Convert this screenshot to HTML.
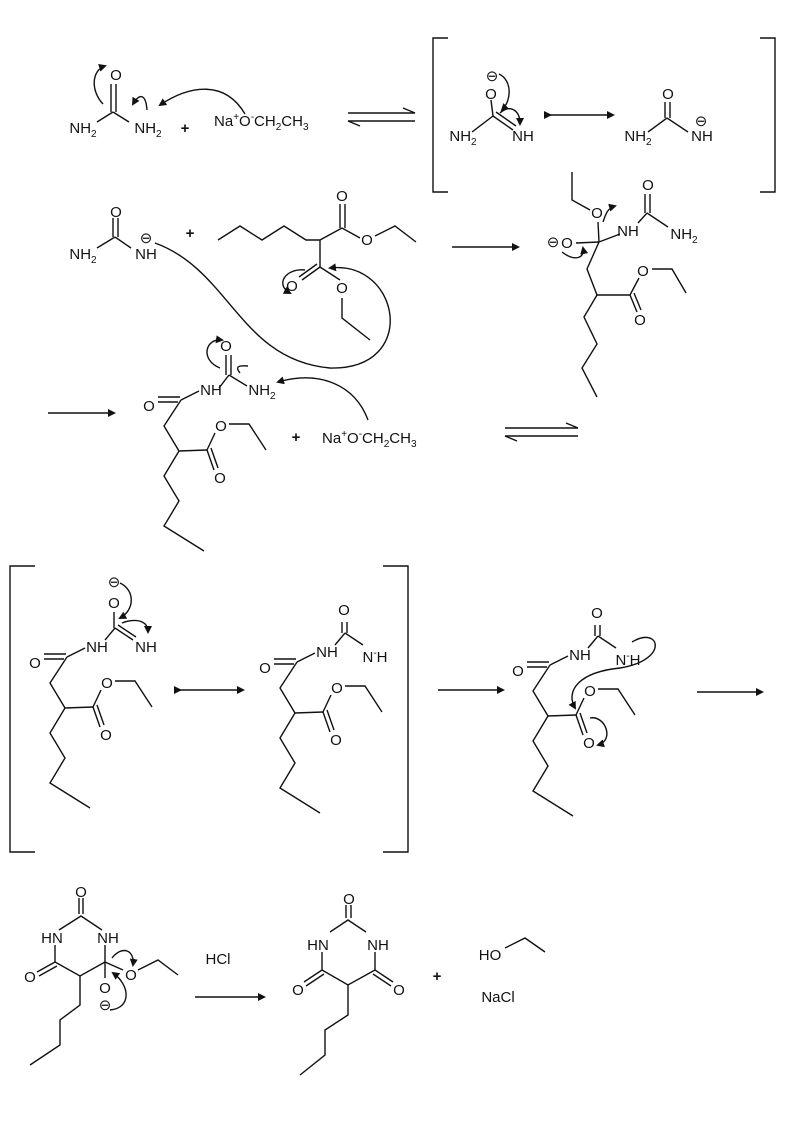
<!DOCTYPE html>
<html><head><meta charset="utf-8"><style>
html,body{margin:0;padding:0;background:#fff;}
svg{display:block;}
text{font-family:"Liberation Sans",sans-serif;font-size:15px;fill:#111;stroke:none;}
.s{font-size:10px;}
</style></head><body>
<svg width="800" height="1147" viewBox="0 0 800 1147" xmlns="http://www.w3.org/2000/svg">
<defs>
<marker id="ah" markerWidth="8" markerHeight="8" refX="6" refY="4" orient="auto" markerUnits="userSpaceOnUse"><path d="M0,0 L8,4 L0,8 Z" fill="#111" stroke="none"/></marker>
<g id="base">
 <text x="35" y="668" text-anchor="middle">O</text>
 <line x1="44" y1="654" x2="66" y2="654"/><line x1="44" y1="659" x2="64" y2="659"/>
 <line x1="67" y1="657" x2="85" y2="648"/>
 <text x="97" y="652" text-anchor="middle">NH</text>
 <polyline points="67,657 50,683 65,708 93,707" fill="none"/>
 <line x1="93" y1="707" x2="100" y2="727"/><line x1="97" y1="705" x2="104" y2="725"/>
 <text x="106" y="740" text-anchor="middle">O</text>
 <line x1="93" y1="707" x2="101" y2="690"/>
 <text x="107" y="688" text-anchor="middle">O</text>
 <polyline points="115,681 135,681 152,707" fill="none"/>
 <polyline points="65,708 50,733 65,758 50,783 90,808" fill="none"/>
</g>
</defs>
<g stroke="#111" stroke-width="1.4" fill="none">
<line x1="97" y1="122" x2="113" y2="112"/><line x1="113" y1="112" x2="129" y2="122"/>
<line x1="111" y1="112" x2="111" y2="84"/><line x1="116" y1="112" x2="116" y2="84"/>
<path d="M103,104 C90,90 92,70 105,66" marker-end="url(#ah)"/>
<path d="M147,110 C146,95 140,92 133,104" marker-end="url(#ah)"/>
<path d="M245,114 C225,80 190,85 160,105" marker-end="url(#ah)"/>
<line x1="348" y1="113" x2="415" y2="113"/><path d="M415,113 L403,108" />
<line x1="348" y1="121" x2="415" y2="121"/><path d="M348,121 L360,126"/>
<polyline points="448,38 433,38 433,192 448,192"/>
<polyline points="760,38 775,38 775,192 760,192"/>
<line x1="472" y1="132" x2="493" y2="116"/><line x1="493" y1="116" x2="491" y2="100"/>
<line x1="493" y1="116" x2="513" y2="130"/><line x1="496" y1="112" x2="516" y2="126"/>
<path d="M499,74 C512,80 512,100 502,110" marker-end="url(#ah)"/>
<path d="M500,113 C510,104 520,110 520,124" marker-end="url(#ah)"/>
<line x1="550" y1="115" x2="613" y2="115" marker-end="url(#ah)" marker-start="url(#ah)"/>
<line x1="648" y1="132" x2="667" y2="118"/><line x1="667" y1="118" x2="688" y2="132"/>
<line x1="665" y1="118" x2="665" y2="102"/><line x1="670" y1="118" x2="670" y2="102"/>
<line x1="97" y1="248" x2="115" y2="237"/><line x1="115" y1="237" x2="131" y2="248"/>
<line x1="113" y1="237" x2="113" y2="218"/><line x1="118" y1="237" x2="118" y2="218"/>
<polyline points="218,240 240,226 262,240 284,226 306,240 320,240"/>
<line x1="320" y1="240" x2="342" y2="228"/>
<line x1="340" y1="228" x2="340" y2="204"/><line x1="345" y1="228" x2="345" y2="204"/>
<line x1="342" y1="228" x2="360" y2="238"/>
<polyline points="375,236 395,226 416,242"/>
<line x1="320" y1="240" x2="320" y2="267"/>
<line x1="320" y1="267" x2="302" y2="280"/><line x1="317" y1="264" x2="299" y2="277"/>
<line x1="320" y1="267" x2="340" y2="280"/>
<polyline points="342,298 342,318 370,340"/>
<path d="M155,243 C230,270 240,360 330,368 C420,370 400,260 330,268" marker-end="url(#ah)"/>
<path d="M305,270 C285,268 275,285 290,293" marker-end="url(#ah)"/>
<line x1="452" y1="247" x2="518" y2="247" marker-end="url(#ah)"/>
<polyline points="572,172 572,200 590,210"/>
<line x1="598" y1="222" x2="599" y2="242"/>
<line x1="576" y1="243" x2="599" y2="242"/>
<line x1="599" y1="242" x2="620" y2="234"/>
<line x1="638" y1="223" x2="647" y2="213"/><line x1="647" y1="213" x2="668" y2="227"/>
<line x1="645" y1="213" x2="645" y2="194"/><line x1="650" y1="213" x2="650" y2="194"/>
<polyline points="599,242 587,269 597,295 630,295"/>
<line x1="630" y1="295" x2="637" y2="312"/><line x1="634" y1="293" x2="641" y2="310"/>
<line x1="630" y1="295" x2="639" y2="278"/>
<polyline points="652,269 672,269 686,293"/>
<polyline points="597,295 584,317 597,344 582,368 597,397"/>
<path d="M603,222 C606,213 608,208 615,206" marker-end="url(#ah)"/>
<path d="M562,252 C575,262 585,258 583,248" marker-end="url(#ah)"/>
<line x1="48" y1="413" x2="114" y2="413" marker-end="url(#ah)"/>
<g transform="translate(114,-257)"><use href="#base"/>
 <line x1="105" y1="645" x2="115" y2="632"/><line x1="115" y1="632" x2="133" y2="643"/>
 <line x1="112" y1="632" x2="112" y2="612"/><line x1="117" y1="632" x2="117" y2="612"/>
</g>
<path d="M220,368 C200,360 205,338 222,340" marker-end="url(#ah)"/>
<path d="M240,373 C236,368 236,365 248,366" />
<path d="M368,420 C355,385 320,370 278,382" marker-end="url(#ah)"/>
<line x1="505" y1="428" x2="578" y2="428"/><path d="M578,428 L566,423"/>
<line x1="505" y1="436" x2="578" y2="436"/><path d="M505,436 L517,441"/>
<polyline points="35,566 10,566 10,852 35,852"/>
<polyline points="383,566 408,566 408,852 383,852"/>
<use href="#base"/>
<line x1="105" y1="640" x2="115" y2="628"/><line x1="115" y1="628" x2="133" y2="640"/>
<line x1="118" y1="625" x2="136" y2="637"/>
<line x1="114" y1="628" x2="114" y2="612"/>
<path d="M120,583 C135,590 135,610 120,618" marker-end="url(#ah)"/>
<path d="M122,623 C135,618 148,620 148,632" marker-end="url(#ah)"/>
<line x1="180" y1="690" x2="243" y2="690" marker-end="url(#ah)" marker-start="url(#ah)"/>
<g transform="translate(230,5)"><use href="#base"/>
 <line x1="105" y1="640" x2="115" y2="628"/><line x1="115" y1="628" x2="133" y2="640"/>
 <line x1="112" y1="628" x2="112" y2="617"/><line x1="117" y1="628" x2="117" y2="617"/>
</g>
<line x1="438" y1="690" x2="503" y2="690" marker-end="url(#ah)"/>
<g transform="translate(483,8)"><use href="#base"/>
 <line x1="105" y1="640" x2="115" y2="628"/><line x1="115" y1="628" x2="133" y2="640"/>
 <line x1="112" y1="628" x2="112" y2="617"/><line x1="117" y1="628" x2="117" y2="617"/>
</g>
<path d="M632,642 C660,625 670,660 620,668 C580,672 565,690 575,708" marker-end="url(#ah)"/>
<path d="M590,718 C605,715 615,740 598,745" marker-end="url(#ah)"/>
<line x1="697" y1="692" x2="762" y2="692" marker-end="url(#ah)"/>
<line x1="79" y1="914" x2="79" y2="898" /><line x1="83" y1="914" x2="83" y2="898"/>
<polyline points="59,930 81,916 102,930"/>
<line x1="55" y1="945" x2="55" y2="962"/>
<line x1="105" y1="945" x2="105" y2="962"/>
<polyline points="55,962 80,976 105,962"/>
<line x1="55" y1="962" x2="37" y2="972"/><line x1="57" y1="966" x2="39" y2="976"/>
<line x1="105" y1="962" x2="105" y2="978"/>
<line x1="105" y1="962" x2="123" y2="970"/>
<polyline points="138,970 158,960 178,975"/>
<polyline points="80,976 80,1005 60,1020 60,1045 30,1065"/>
<path d="M112,958 C122,945 135,950 133,965" marker-end="url(#ah)"/>
<path d="M110,1010 C132,1008 130,985 113,973" marker-end="url(#ah)"/>
<line x1="195" y1="997" x2="264" y2="997" marker-end="url(#ah)"/>
<line x1="346" y1="918" x2="346" y2="905"/><line x1="351" y1="918" x2="351" y2="905"/>
<polyline points="330,932 348,920 366,932"/>
<line x1="322" y1="952" x2="322" y2="970"/>
<line x1="375" y1="952" x2="375" y2="970"/>
<polyline points="322,970 348,985 375,970"/>
<line x1="322" y1="970" x2="304" y2="982"/><line x1="324" y1="974" x2="306" y2="986"/>
<line x1="375" y1="970" x2="393" y2="982"/><line x1="373" y1="974" x2="391" y2="986"/>
<polyline points="348,985 348,1015 325,1030 325,1055 300,1075"/>
<polyline points="505,948 525,938 545,952"/>
</g>
<g>
<text x="83" y="133" text-anchor="middle">NH<tspan class="s" dy="4">2</tspan></text>
<text x="116" y="80" text-anchor="middle">O</text>
<text x="148" y="133" text-anchor="middle">NH<tspan class="s" dy="4">2</tspan></text>
<text x="185" y="133" text-anchor="middle" font-weight="bold">+</text>
<text x="214" y="126">Na<tspan class="s" dy="-6">+</tspan><tspan dy="6">O</tspan><tspan class="s" dy="-6">-</tspan><tspan dy="6">CH</tspan><tspan class="s" dy="4">2</tspan><tspan dy="-4">CH</tspan><tspan class="s" dy="4">3</tspan></text>
<text x="492" y="81" text-anchor="middle" font-size="12">⊖</text>
<text x="491" y="99" text-anchor="middle">O</text>
<text x="463" y="141" text-anchor="middle">NH<tspan class="s" dy="4">2</tspan></text>
<text x="523" y="141" text-anchor="middle">NH</text>
<text x="668" y="99" text-anchor="middle">O</text>
<text x="638" y="141" text-anchor="middle">NH<tspan class="s" dy="4">2</tspan></text>
<text x="702" y="141" text-anchor="middle">NH</text>
<text x="701" y="126" text-anchor="middle" font-size="12">⊖</text>
<text x="83" y="259" text-anchor="middle">NH<tspan class="s" dy="4">2</tspan></text>
<text x="116" y="217" text-anchor="middle">O</text>
<text x="146" y="259" text-anchor="middle">NH</text>
<text x="146" y="243" text-anchor="middle" font-size="12">⊖</text>
<text x="190" y="238" text-anchor="middle" font-weight="bold">+</text>
<text x="342" y="201" text-anchor="middle">O</text>
<text x="367" y="245" text-anchor="middle">O</text>
<text x="292" y="291" text-anchor="middle">O</text>
<text x="342" y="293" text-anchor="middle">O</text>
<text x="597" y="218" text-anchor="middle">O</text>
<text x="567" y="248" text-anchor="middle">O</text>
<text x="553" y="247" text-anchor="middle" font-size="12">⊖</text>
<text x="628" y="236" text-anchor="middle">NH</text>
<text x="648" y="190" text-anchor="middle">O</text>
<text x="684" y="239" text-anchor="middle">NH<tspan class="s" dy="4">2</tspan></text>
<text x="643" y="276" text-anchor="middle">O</text>
<text x="640" y="325" text-anchor="middle">O</text>
<text x="226" y="351" text-anchor="middle">O</text>
<text x="262" y="395" text-anchor="middle">NH<tspan class="s" dy="4">2</tspan></text>
<text x="296" y="442" text-anchor="middle" font-weight="bold">+</text>
<text x="322" y="443">Na<tspan class="s" dy="-6">+</tspan><tspan dy="6">O</tspan><tspan class="s" dy="-6">-</tspan><tspan dy="6">CH</tspan><tspan class="s" dy="4">2</tspan><tspan dy="-4">CH</tspan><tspan class="s" dy="4">3</tspan></text>
<text x="114" y="587" text-anchor="middle" font-size="12">⊖</text>
<text x="114" y="608" text-anchor="middle">O</text>
<text x="146" y="652" text-anchor="middle">NH</text>
<text x="344" y="615" text-anchor="middle">O</text>
<text x="375" y="662" text-anchor="middle">N<tspan class="s" dy="-6">-</tspan><tspan dy="6">H</tspan></text>
<text x="597" y="618" text-anchor="middle">O</text>
<text x="628" y="665" text-anchor="middle">N<tspan class="s" dy="-6">-</tspan><tspan dy="6">H</tspan></text>
<text x="81" y="897" text-anchor="middle">O</text>
<text x="52" y="943" text-anchor="middle">HN</text>
<text x="108" y="943" text-anchor="middle">NH</text>
<text x="30" y="982" text-anchor="middle">O</text>
<text x="105" y="993" text-anchor="middle">O</text>
<text x="105" y="1010" text-anchor="middle" font-size="12">⊖</text>
<text x="131" y="980" text-anchor="middle">O</text>
<text x="218" y="964" text-anchor="middle">HCl</text>
<text x="349" y="904" text-anchor="middle">O</text>
<text x="318" y="950" text-anchor="middle">HN</text>
<text x="378" y="950" text-anchor="middle">NH</text>
<text x="298" y="995" text-anchor="middle">O</text>
<text x="399" y="995" text-anchor="middle">O</text>
<text x="437" y="981" text-anchor="middle" font-weight="bold">+</text>
<text x="490" y="960" text-anchor="middle">HO</text>
<text x="498" y="1002" text-anchor="middle">NaCl</text>
</g>
</svg>
</body></html>
